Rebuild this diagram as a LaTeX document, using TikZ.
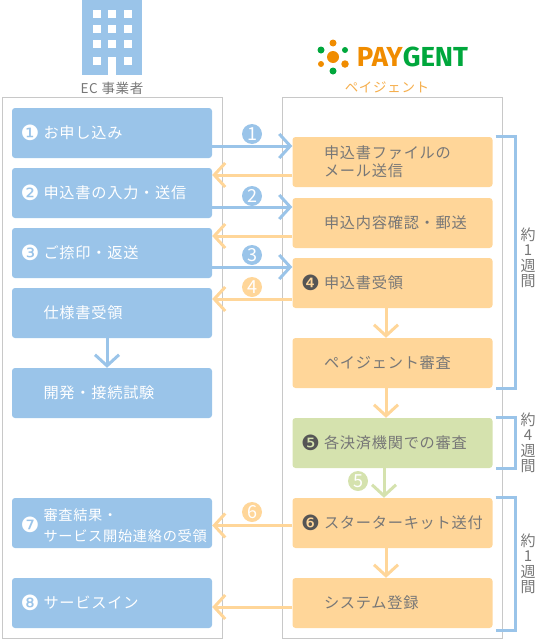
\documentclass[tikz,border=0pt]{standalone}
\usepackage{fontspec}
\usepackage{xcolor}
\usetikzlibrary{arrows.meta}
\setmainfont[LetterSpace=5]{Noto Sans CJK JP}
\newfontfamily\dejavu{DejaVu Sans}
\newfontfamily\logofont[Scale=1]{Fira Sans Bold}
\definecolor{ecblue}{HTML}{9AC4E9}
\definecolor{pgorange}{HTML}{FFD699}
\definecolor{pggreen}{HTML}{D5E2AE}
\definecolor{txtgray}{HTML}{777777}
\definecolor{numgray}{HTML}{555555}
\definecolor{logoorange}{HTML}{F08C00}
\definecolor{logogreen}{HTML}{00A73C}
\definecolor{panelgray}{HTML}{C8C8C8}
\newcommand{\stepnum}[1]{\makebox[21.5pt][l]{\raisebox{-2pt}[0pt][0pt]{\hspace*{-1.5pt}\dejavu\fontsize{21}{21}\selectfont #1}}}
\newcommand{\twolines}[4]{\rule[-2pt]{0pt}{13pt}\raisebox{-#2pt}[0pt][0pt]{\begin{tabular}[c]{@{}l@{}}#3\\[#1pt]#4\end{tabular}}}
\tikzset{
  box/.style={minimum width=200pt,minimum height=50pt,rounded corners=3pt,inner xsep=10pt,inner ysep=0pt,
    text width=180pt,align=left,font=\fontsize{15.2}{19}\selectfont},
  ecbox/.style={box,fill=ecblue,text=white},
  pgbox/.style={box,fill=pgorange,text=txtgray},
  exbox/.style={box,fill=pggreen,text=txtgray},
  tag/.style={circle,inner sep=0pt,minimum size=20pt,text=white,font=\fontsize{18}{18}\selectfont},
  span/.style={align=center,text=txtgray,font=\fontsize{15}{15.5}\selectfont},
  flow/.style={line width=3pt,arrows={-Straight Barb[length=11pt,width=24pt,line width=3pt]}},
  bracket/.style={draw=ecblue,line width=3pt},
  window/.style={fill=white},
  dot/.style={circle,inner sep=0pt}
}
\begin{document}
\begin{tikzpicture}[x=1pt,y=-1pt]
\useasboundingbox (0,0) rectangle (535,640);
\draw[panelgray] (2.5,97.5) rectangle (222.5,638.5);
\draw[panelgray] (282.5,97.5) rectangle (502.5,638.5);
% building
\fill[ecblue] (82,0) rectangle (142,75);
\foreach \wx in {93,108,124} \foreach \wy in {10,25,40} \fill[window] (\wx,\wy) rectangle +(8,8);
\fill[window] (93,57) rectangle +(8,8);
\fill[window] (124,57) rectangle +(8,8);
\fill[window] (108,57) rectangle (116,75);
\node[text=txtgray,font=\fontsize{13.5}{13}\selectfont] (ecname) at (112,88) {EC 事業者};
% logo
\node[dot,fill=logoorange,minimum size=12pt] (d0) at (333,57) {};
\node[dot,fill=logoorange,minimum size=7pt] (d1) at (333,43) {};
\node[dot,fill=logogreen,minimum size=7pt] (d2) at (333,71) {};
\node[dot,fill=logogreen,minimum size=7pt] (d3) at (321,50) {};
\node[dot,fill=logogreen,minimum size=6pt] (d4) at (345,50) {};
\node[dot,fill=logoorange,minimum size=6pt] (d5) at (321,64) {};
\node[dot,fill=logoorange,minimum size=7.5pt] (d6) at (345,64) {};
\node[inner sep=0pt,font=\fontsize{27.5}{27.5}\logofont] (logo) at (412.5,57) {\textcolor{logoorange}{PAY}\textcolor{logogreen}{GENT}};
\node[text=logoorange!70,font=\fontsize{13.5}{13}\selectfont] (pgname) at (387,87) {ペイジェント};
% left column
\node[ecbox] (l1) at (112,133) {\stepnum{❶}お申し込み};
\node[ecbox] (l2) at (112,193) {\stepnum{❷}申込書の入力・送信};
\node[ecbox] (l3) at (112,253) {\stepnum{❸}ご捺印・返送};
\node[ecbox] (l4) at (112,313) {\stepnum{}仕様書受領};
\node[ecbox] (l5) at (112,393) {\stepnum{}開発・接続試験};
\node[ecbox,font=\fontsize{14.2}{19}\selectfont] (l6) at (112,523) {\raisebox{-2.5pt}[0pt][0pt]{\stepnum{❼}}\twolines{2}{3.25}{審査結果・}{サービス開始連絡の受領}};
\node[ecbox] (l7) at (112,603) {\stepnum{❽}サービスイン};
% right column
\node[pgbox] (r1) at (392.5,162) {\stepnum{}\twolines{-1}{1.25}{申込書ファイルの}{メール送信}};
\node[pgbox] (r2) at (392.5,223) {\stepnum{}申込内容確認・郵送};
\node[pgbox] (r3) at (392.5,283) {\stepnum{\textcolor{numgray}{❹}}申込書受領};
\node[pgbox] (r4) at (392.5,363) {\stepnum{}ペイジェント審査};
\node[exbox] (r5) at (392.5,443) {\stepnum{\textcolor{numgray}{❺}}各決済機関での審査};
\node[pgbox] (r6) at (392.5,523) {\stepnum{\textcolor{numgray}{❻}}スターターキット送付};
\node[pgbox] (r7) at (392.5,603) {\stepnum{}システム登録};
% flows
\draw[flow,ecblue] ([yshift=-13pt]l1.east) -- ([yshift=16pt]r1.west);
\draw[flow,pgorange] ([yshift=-13pt]r1.west) -- ([yshift=18pt]l2.east);
\draw[flow,ecblue] ([yshift=-14pt]l2.east) -- ([yshift=16pt]r2.west);
\draw[flow,pgorange] ([yshift=-13pt]r2.west) -- ([yshift=17pt]l3.east);
\draw[flow,ecblue] ([yshift=-14pt]l3.east) -- ([yshift=16pt]r3.west);
\draw[flow,pgorange] ([yshift=-16pt]r3.west) -- ([yshift=14pt]l4.east);
\draw[flow,ecblue] ([xshift=-5pt]l4.south) -- ([xshift=-5pt]l5.north);
\draw[flow,pgorange] ([xshift=-6.5pt]r3.south) -- ([xshift=-6.5pt]r4.north);
\draw[flow,pgorange] ([xshift=-6.5pt]r4.south) -- ([xshift=-6.5pt]r5.north);
\draw[flow,pggreen] ([xshift=-8.5pt]r5.south) -- ([xshift=-8.5pt]r6.north);
\draw[flow,pgorange] ([xshift=-6.5pt]r6.south) -- ([xshift=-6.5pt]r7.north);
\draw[flow,pgorange] ([yshift=-2.5pt]r6.west) -- ([yshift=-2.5pt]l6.east);
\draw[flow,pgorange] ([yshift=-4pt]r7.west) -- ([yshift=-4pt]l7.east);
% tags
\node[tag,fill=ecblue] (t1) at (252,134) {1};
\node[tag,fill=ecblue] (t2) at (252,196) {2};
\node[tag,fill=ecblue] (t3) at (252,255) {3};
\node[tag,fill=pgorange] (t4) at (252,287) {4};
\node[tag,fill=pggreen] (t5) at (358,481) {5};
\node[tag,fill=pgorange] (t6) at (252,512) {6};
% periods
\draw[bracket] (r1.north east) ++(3,0) -- ++(20,0) |- ([xshift=3pt]r4.south east);
\draw[bracket] (r5.north east) ++(3,0) -- ++(20,0) |- ([xshift=3pt]r5.south east);
\draw[bracket] (r6.north east) ++(3,0) -- ++(20,0) |- ([xshift=3pt,yshift=-2pt]r7.south east);
\node[span] (p1) at (528,258) {約\\1\\週\\間};
\node[span] (p2) at (528,443) {約\\4\\週\\間};
\node[span] (p3) at (528,564) {約\\1\\週\\間};
\end{tikzpicture}
\end{document}
